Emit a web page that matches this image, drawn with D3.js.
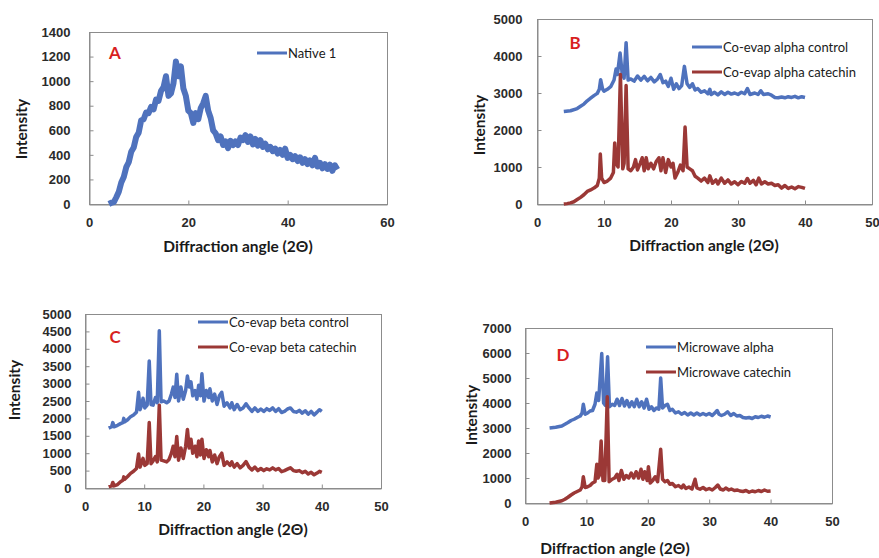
<!DOCTYPE html>
<html>
<head>
<meta charset="utf-8">
<script src="https://cdn.jsdelivr.net/npm/d3@7"></script>
<style>
  body { margin: 0; background: #fff; }
  svg { font-family: Lato, "Open Sans", sans-serif; }
  .tick text { fill: #2b2b2b; font-weight: bold; font-size: 13px; }
  .frame { fill: none; stroke: #8c8c8c; stroke-width: 1; }
  .axtitle { font-weight: bold; font-size: 15.5px; fill: #1a1a1a; }
  .legtext { font-size: 13px; fill: #1a1a1a; }
  .letter { font-weight: bold; font-size: 17px; fill: #d81f1f; }
</style>
</head>
<body>
<script>
  // series: [angle 2theta, intensity]
  var nativeA = [[4,0],[4.5,10],[5,15],[5.5,55],[6,100],[6.5,175],[7,220],[7.5,300],[8,340],[8.5,425],[9,460],[9.5,545],[10,580],[10.5,680],[11,690],[11.5,745],[12,740],[12.5,790],[13,770],[13.5,850],[14,840],[14.5,920],[15,950],[15.5,1040],[16,880],[16.5,900],[17,980],[17.5,1160],[18,1040],[18.5,1120],[19,940],[19.5,880],[20,760],[20.5,740],[21,660],[21.5,740],[22,690],[22.5,780],[23,820],[23.5,880],[24,760],[24.5,700],[25,600],[25.5,575],[26,520],[26.5,550],[27,480],[27.5,510],[28,455],[28.5,515],[29,480],[29.5,510],[30,480],[30.5,540],[31,520],[31.5,560],[32,505],[32.5,550],[33,485],[33.5,530],[34,475],[34.5,520],[35,465],[35.5,490],[36,445],[36.5,465],[37,430],[37.5,450],[38,410],[38.5,440],[39,400],[39.5,450],[40,375],[40.5,400],[41,365],[41.5,390],[42,350],[42.5,380],[43,335],[43.5,365],[44,325],[44.5,355],[45,315],[45.5,375],[46,305],[46.5,335],[47,290],[47.5,325],[48,285],[48.5,320],[49,270],[49.5,315],[50,280]];

  var alphaControl = [[4,2500],[5,2520],[6,2580],[6.5,2640],[7,2700],[7.5,2790],[8,2860],[8.5,2930],[9,2990],[9.3,3100],[9.5,3360],[9.8,3100],[10,3050],[10.5,3100],[11,3170],[11.5,3350],[11.8,3650],[12,3500],[12.4,4080],[12.7,3550],[13,3400],[13.3,4360],[13.6,3350],[14,3380],[14.5,3320],[15,3460],[15.5,3350],[16,3450],[16.5,3330],[17,3420],[17.5,3300],[18,3380],[18.4,3500],[18.8,3280],[19.2,3320],[19.6,3180],[20,3400],[20.4,3100],[20.8,3250],[21.2,3120],[21.6,3200],[22,3720],[22.4,3250],[22.8,3150],[23.2,3250],[23.6,3080],[24,3120],[24.5,3020],[25,3060],[25.5,2980],[25.8,3100],[26,2960],[26.5,3020],[27,2950],[27.5,3030],[28,2960],[28.5,3020],[29,2970],[29.5,3000],[30,2960],[30.5,3020],[31,2980],[31.4,3120],[31.8,2960],[32.5,3000],[33,2960],[33.4,3060],[33.8,2960],[34.5,2980],[35,2940],[35.5,2880],[36,2870],[36.5,2890],[37,2870],[37.5,2900],[38,2880],[38.5,2910],[39,2870],[39.5,2900],[40,2880]];

  var alphaCatechin = [[4,0],[4.5,10],[5,30],[5.5,60],[6,120],[6.5,180],[7,250],[7.5,340],[8,380],[8.5,430],[9,500],[9.3,700],[9.45,1350],[9.65,700],[10,580],[10.5,620],[11,700],[11.4,850],[11.6,1650],[11.8,1100],[12.1,1000],[12.45,3500],[12.8,950],[13,1100],[13.3,3200],[13.6,950],[14,900],[14.4,1000],[14.7,1200],[15,920],[15.4,1100],[15.7,1250],[16,900],[16.3,1250],[16.6,950],[17,1100],[17.4,950],[17.8,1150],[18.2,1250],[18.5,900],[18.8,1250],[19.2,850],[19.6,1200],[20,1000],[20.3,1100],[20.6,700],[21,850],[21.4,1050],[21.8,900],[22.1,2080],[22.4,1000],[22.8,950],[23.2,900],[23.6,750],[24,700],[24.5,620],[25,700],[25.5,580],[25.8,760],[26.2,560],[26.7,650],[27,540],[27.5,700],[28,560],[28.5,650],[29,540],[29.5,600],[30,520],[30.5,610],[31,560],[31.4,690],[31.8,560],[32.3,640],[32.7,520],[33.1,700],[33.5,540],[34,600],[34.5,540],[35,560],[35.5,500],[36,520],[36.5,430],[37,500],[37.5,420],[38,460],[38.5,410],[39,470],[39.5,450],[40,420]];

  var betaControl = [[4,1720],[4.5,1760],[4.7,1880],[4.9,1760],[5.5,1800],[6,1850],[6.4,1880],[6.55,2000],[6.7,1900],[7.2,1960],[7.7,2050],[8.2,2100],[8.7,2180],[9.05,2750],[9.3,2250],[9.6,2400],[9.8,2580],[10.1,2300],[10.5,2380],[10.85,3650],[11.15,2400],[11.5,2380],[11.9,2600],[12.2,2450],[12.55,4520],[12.85,2480],[13.3,2500],[13.8,2450],[14.2,2500],[14.6,2700],[14.9,2900],[15.2,2600],[15.5,3270],[15.8,2500],[16.2,2900],[16.6,2550],[17,2800],[17.3,3220],[17.6,2900],[17.9,3050],[18.2,2650],[18.6,2800],[18.9,2550],[19.2,2950],[19.5,2650],[19.75,3280],[20.1,2500],[20.5,2800],[20.9,2600],[21.1,2850],[21.5,2500],[21.9,2700],[22.3,2400],[22.7,2650],[23.1,2750],[23.5,2350],[24,2450],[24.5,2300],[24.8,2450],[25.2,2250],[25.7,2400],[26.2,2250],[26.7,2300],[27.2,2420],[27.7,2300],[28.2,2200],[28.7,2300],[29.2,2200],[29.7,2270],[30.2,2200],[30.7,2280],[31.2,2230],[31.7,2300],[32.2,2200],[32.7,2280],[33.2,2170],[33.7,2200],[34.2,2270],[34.7,2300],[35.2,2200],[35.7,2180],[36.2,2230],[36.7,2150],[37.2,2220],[37.7,2120],[38.2,2200],[38.7,2100],[39.2,2180],[39.6,2250],[40,2200]];

  var betaCatechin = [[4,30],[4.5,60],[4.7,160],[4.9,60],[5.5,100],[6,180],[6.4,220],[6.55,320],[6.7,250],[7.2,330],[7.7,420],[8.2,480],[8.7,560],[9.05,980],[9.3,600],[9.6,750],[9.8,850],[10.1,650],[10.5,700],[10.85,1880],[11.15,700],[11.5,780],[11.9,900],[12.2,750],[12.55,2380],[12.85,800],[13.3,780],[13.8,750],[14.2,820],[14.6,1000],[14.9,1200],[15.2,900],[15.5,1480],[15.8,800],[16.2,1150],[16.6,850],[17,1200],[17.3,1680],[17.6,1150],[17.9,1400],[18.2,1000],[18.6,1200],[18.9,900],[19.2,1350],[19.5,950],[19.75,1400],[20.1,850],[20.5,1100],[20.9,900],[21.1,1080],[21.5,750],[21.9,950],[22.3,700],[22.7,900],[23.1,1000],[23.5,650],[24,750],[24.5,650],[24.8,750],[25.2,600],[25.7,700],[26.2,580],[26.7,650],[27.2,760],[27.7,600],[28.2,520],[28.7,600],[29.2,500],[29.7,560],[30.2,500],[30.7,550],[31.2,520],[31.7,580],[32.2,520],[32.7,560],[33.2,470],[33.7,500],[34.2,540],[34.7,580],[35.2,500],[35.7,480],[36.2,500],[36.7,440],[37.2,480],[37.7,400],[38.2,450],[38.7,380],[39.2,430],[39.6,480],[40,450]];

  var microAlpha = [[4,3000],[5,3030],[6,3080],[6.5,3150],[7,3220],[7.5,3300],[8,3350],[8.5,3420],[9,3480],[9.3,3600],[9.5,3950],[9.8,3550],[10.2,3600],[10.6,3680],[11,3700],[11.4,3950],[11.7,4400],[12,4100],[12.5,5980],[12.8,4000],[13.1,3900],[13.45,5850],[13.75,3850],[14.2,3950],[14.6,3900],[15,4150],[15.4,3900],[15.8,4180],[16.2,3880],[16.6,4100],[17,3850],[17.4,4050],[17.8,3850],[18.2,4150],[18.6,3850],[19,4050],[19.4,3800],[19.8,4150],[20.2,3750],[20.6,3850],[21,3700],[21.4,3800],[21.8,3750],[22.1,5000],[22.4,3800],[22.8,3900],[23.2,3950],[23.6,3700],[24,3750],[24.5,3600],[25,3650],[25.5,3550],[26,3620],[26.5,3520],[27,3600],[27.5,3520],[28,3600],[28.5,3520],[29,3580],[29.5,3520],[30,3580],[30.5,3500],[31,3620],[31.3,3700],[31.6,3550],[32,3500],[32.5,3550],[33,3650],[33.5,3500],[34,3580],[34.5,3480],[35,3500],[35.5,3420],[36,3400],[36.5,3420],[37,3380],[37.5,3450],[38,3420],[38.5,3470],[39,3430],[39.5,3480],[40,3440]];

  var microCatechin = [[4,0],[5,30],[6,90],[6.5,150],[7,230],[7.5,320],[8,400],[8.5,460],[9,520],[9.3,650],[9.5,1050],[9.8,620],[10.2,650],[10.6,700],[11,800],[11.4,850],[11.7,1550],[11.9,1000],[12.1,1100],[12.4,2480],[12.7,900],[13,900],[13.4,4250],[13.7,850],[14.2,950],[14.6,1000],[15,1150],[15.3,900],[15.7,1300],[16.1,950],[16.5,1100],[16.9,1000],[17.3,1200],[17.7,1000],[18.1,1250],[18.5,1000],[18.9,1350],[19.2,950],[19.5,1250],[19.9,900],[20.1,1450],[20.4,800],[20.8,900],[21.2,1050],[21.6,850],[22.1,2150],[22.4,950],[22.8,850],[23.2,900],[23.6,750],[24,780],[24.5,650],[25,700],[25.5,600],[25.8,720],[26.2,580],[26.7,640],[27.2,560],[27.7,950],[28,600],[28.5,550],[29,620],[29.5,530],[30,580],[30.5,520],[31,620],[31.4,720],[31.8,560],[32.3,520],[32.7,600],[33.2,520],[33.6,560],[34.1,500],[34.6,520],[35,480],[35.5,460],[36,500],[36.5,430],[37,480],[37.5,450],[38,500],[38.5,460],[39,520],[39.5,470],[40,480]];

  // tick labels
  var xTicksA = [0, 20, 40, 60];
  var xTicksBCD = [0, 10, 20, 30, 40, 50];
  var yTicksA = [0, 200, 400, 600, 800, 1000, 1200, 1400];
  var yTicksB = [0, 1000, 2000, 3000, 4000, 5000];
  var yTicksC = [0, 500, 1000, 1500, 2000, 2500, 3000, 3500, 4000, 4500, 5000];
  var yTicksD = [0, 1000, 2000, 3000, 4000, 5000, 6000, 7000];

  var blue = "#4f72bd", red = "#9b3836";

  var svg = d3.select("body").append("svg")
    .attr("width", 879)
    .attr("height", 558);

  // panel layout (pixel boxes of plot areas)
  var panels = [
    {letter: "A", box: [89, 387, 32, 204], xmax: 60, xt: xTicksA, ymax: 1400, yt: yTicksA, gap: 19,
     lx: 115, ly: 53, xtc: 238, xty: 252, ytx: 22, yty: 129, leg: [257, 53], sw: 6,
     series: [{d: nativeA, c: blue, n: "Native 1"}]},
    {letter: "B", box: [537, 872, 19, 204], xmax: 50, xt: xTicksBCD, ymax: 5000, yt: yTicksB, gap: 15,
     lx: 575, ly: 43, xtc: 704, xty: 251, ytx: 480, yty: 125, leg: [692, 47], sw: 3.5,
     series: [{d: alphaControl, c: blue, n: "Co-evap alpha control"}, {d: alphaCatechin, c: red, n: "Co-evap alpha catechin"}]},
    {letter: "C", box: [85, 381, 314, 488], xmax: 50, xt: xTicksBCD, ymax: 5000, yt: yTicksC, gap: 14,
     lx: 115, ly: 337, xtc: 233, xty: 535, ytx: 15, yty: 390, leg: [198, 322], sw: 3.5,
     series: [{d: betaControl, c: blue, n: "Co-evap beta control"}, {d: betaCatechin, c: red, n: "Co-evap beta catechin"}]},
    {letter: "D", box: [525, 832, 328, 503], xmax: 50, xt: xTicksBCD, ymax: 7000, yt: yTicksD, gap: 14,
     lx: 563, ly: 355, xtc: 615, xty: 554, ytx: 472, yty: 415, leg: [646, 347], sw: 3.5,
     series: [{d: microAlpha, c: blue, n: "Microwave alpha"}, {d: microCatechin, c: red, n: "Microwave catechin"}]}
  ];

  panels.forEach(function(p) {
    var x = d3.scaleLinear().domain([0, p.xmax]).range([p.box[0], p.box[1]]);
    var y = d3.scaleLinear().domain([0, p.ymax]).range([p.box[3], p.box[2]]);
    var g = svg.append("g");

    //plot frame
    g.append("rect")
      .attr("class", "frame")
      .attr("x", p.box[0] + 0.5)
      .attr("y", p.box[2] + 0.5)
      .attr("width", p.box[1] - p.box[0])
      .attr("height", p.box[3] - p.box[2]);

    //add the X axis (inward ticks)
    var xa = g.append("g")
      .attr("transform", "translate(0," + (p.box[3] + 0.5) + ")")
      .call(d3.axisBottom(x).tickValues(p.xt).tickFormat(d3.format("d"))
        .tickSizeInner(-4).tickSizeOuter(0).tickPadding(13));
    xa.select(".domain").attr("stroke", "#8c8c8c");
    xa.selectAll(".tick line").attr("stroke", "#8c8c8c");

    //add the Y axis
    var ya = g.append("g")
      .attr("transform", "translate(" + (p.box[0] + 0.5) + ",0)")
      .call(d3.axisLeft(y).tickValues(p.yt).tickFormat(d3.format("d"))
        .tickSizeInner(-4).tickSizeOuter(0).tickPadding(p.gap));
    ya.select(".domain").attr("stroke", "#8c8c8c");
    ya.selectAll(".tick line").attr("stroke", "#8c8c8c");
    ya.selectAll(".tick line").filter(function(d) { return d === 0; }).remove();

    //the traces
    p.series.forEach(function(s) {
      g.append("path")
        .datum(s.d)
        .attr("fill", "none")
        .attr("stroke", s.c)
        .attr("stroke-width", p.sw)
        .attr("stroke-linejoin", "round")
        .attr("d", d3.line()
          .x(function(d) { return x(d[0]); })
          .y(function(d) { return y(d[1]); }));
    });

    //legend
    p.series.forEach(function(s, i) {
      var ly = p.leg[1] + i * 25;
      g.append("line")
        .attr("x1", p.leg[0]).attr("x2", p.leg[0] + 30)
        .attr("y1", ly).attr("y2", ly)
        .attr("stroke", s.c).attr("stroke-width", 3);
      g.append("text")
        .attr("class", "legtext")
        .attr("x", p.leg[0] + 31)
        .attr("y", ly)
        .attr("dy", "0.35em")
        .text(s.n);
    });

    //panel letter
    g.append("text")
      .attr("class", "letter")
      .attr("x", p.lx).attr("y", p.ly)
      .attr("text-anchor", "middle")
      .attr("dy", "0.35em")
      .text(p.letter);

    //axis titles
    g.append("text")
      .attr("class", "axtitle")
      .attr("x", p.xtc).attr("y", p.xty)
      .attr("text-anchor", "middle")
      .text("Diffraction angle (2Θ)");
    g.append("text")
      .attr("class", "axtitle")
      .attr("transform", "translate(" + p.ytx + "," + p.yty + ") rotate(-90)")
      .attr("text-anchor", "middle")
      .attr("dy", "0.35em")
      .text("Intensity");
  });
</script>
</body>
</html>
